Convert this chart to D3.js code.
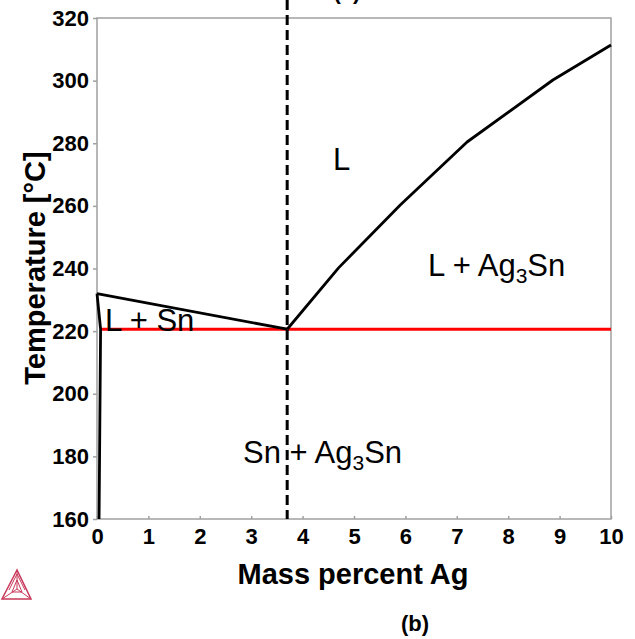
<!DOCTYPE html>
<html><head><meta charset="utf-8">
<script src="https://cdn.jsdelivr.net/npm/d3@7"></script>
<style>body{margin:0;background:#fff}svg{display:block;font-family:"Liberation Sans",Arial,sans-serif}</style>
</head><body>
<svg id="c" width="635" height="639"></svg>
<script>
const xTicks = [0,1,2,3,4,5,6,7,8,9,10];
const yTicks = [160,180,200,220,240,260,280,300,320];
const eutecticT = 220.6;
const eutecticX = 3.7;
const liqSn = [[0,232],[3.7,220.6]];
const solSn = [[0,232],[0.07,220.6],[0.04,160]];
const liqAg3Sn = [[3.7,220.6],[4.7,240.2],[5.9,260.3],[7.2,280.4],[8.87,300.2],[10,311.4]];
const redLine = [[0.07,220.6],[10,220.6]];

const svg = d3.select("#c");
const L=97, R=611, T=18, B=519;
const x = d3.scaleLinear().domain([0,10]).range([L,R]);
const y = d3.scaleLinear().domain([160,320]).range([B,T]);
const gray = "#a0a0a0";

svg.append("rect").attr("x",L).attr("y",T).attr("width",R-L).attr("height",B-T)
  .attr("fill","none").attr("stroke",gray).attr("stroke-width",1.5);

const ya = svg.append("g").attr("transform",`translate(${L},0)`)
  .call(d3.axisLeft(y).tickValues(yTicks).tickSize(4).tickPadding(4));
ya.select(".domain").remove();
ya.selectAll(".tick line").attr("stroke",gray).attr("stroke-width",1.5);
ya.selectAll(".tick text").attr("font-size",22).attr("font-weight","bold").attr("fill","#000")
  .attr("font-family","Liberation Sans, Arial, sans-serif");

const xa = svg.append("g").attr("transform",`translate(0,${B})`)
  .call(d3.axisBottom(x).tickValues(xTicks).tickSize(-3).tickPadding(9));
xa.select(".domain").remove();
xa.selectAll(".tick line").attr("stroke",gray).attr("stroke-width",1.5);
xa.selectAll(".tick text").attr("font-size",22).attr("font-weight","bold").attr("fill","#000")
  .attr("font-family","Liberation Sans, Arial, sans-serif");

const line = d3.line().x(d=>x(d[0])).y(d=>y(d[1]));
svg.append("path").attr("d",line(redLine)).attr("stroke","#ff0000").attr("stroke-width",3).attr("fill","none");
[liqSn, solSn, liqAg3Sn].forEach(p=>{
  svg.append("path").attr("d",line(p)).attr("stroke","#000").attr("stroke-width",2.8)
    .attr("fill","none").attr("stroke-linejoin","round");
});
svg.append("line").attr("x1",x(eutecticX)).attr("x2",x(eutecticX)).attr("y1",0).attr("y2",B)
  .attr("stroke","#000").attr("stroke-width",3).attr("stroke-dasharray","10,5");

function label(px,py,parts){
  const t = svg.append("text").attr("x",px).attr("y",py).attr("font-size",31).attr("fill","#000");
  parts.forEach(p=>{
    if(p.sub){ t.append("tspan").attr("font-size",21).attr("dy",7).text(p.s); }
    else if(p.back){ t.append("tspan").attr("dy",-7).text(p.s); }
    else t.append("tspan").text(p.s);
  });
}
label(333,170,[{s:"L"}]);
label(428,276,[{s:"L + Ag"},{s:"3",sub:true},{s:"Sn",back:true}]);
label(105,331,[{s:"L + Sn"}]);
label(243,463,[{s:"Sn + Ag"},{s:"3",sub:true},{s:"Sn",back:true}]);

svg.append("text").attr("x",353).attr("y",584).attr("text-anchor","middle")
  .attr("font-size",29).attr("font-weight","bold").text("Mass percent Ag");
svg.append("text").attr("transform","translate(45,268) rotate(-90)").attr("text-anchor","middle")
  .attr("font-size",29).attr("font-weight","bold").text("Temperature [°C]");
svg.append("text").attr("x",415).attr("y",631).attr("text-anchor","middle")
  .attr("font-size",22).attr("font-weight","bold").text("(b)");
svg.append("text").attr("x",347).attr("y",-1).attr("text-anchor","middle")
  .attr("font-size",22).attr("font-weight","bold").text("(a)");

const lg = svg.append("g").attr("stroke","#c8385a").attr("fill","none").attr("stroke-width",1);
const A=[17,570],Bv=[2,599],Cv=[31,599],O=[17,589];
lg.append("path").attr("d",`M${A}L${Bv}L${Cv}Z`).attr("stroke-width",1.5);
lg.append("path").attr("d",`M${A}L${O}M${Bv}L${O}M${Cv}L${O}`);
lg.append("path").attr("d",`M${[12,592]}L${[22,592]}L${[17,580]}Z`);
lg.append("path").attr("d",`M${[9,590]}L${[17,574]}L${[25,590]}`);
</script>
</body></html>
